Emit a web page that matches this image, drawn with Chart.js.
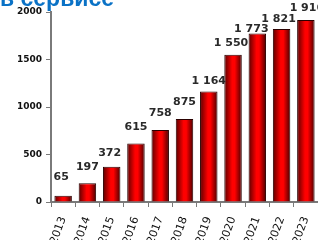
<!DOCTYPE html>
<html lang="ru">
<head>
<meta charset="UTF-8">
<title>в сервисе</title>
<script src="https://cdn.jsdelivr.net/npm/chart.js@4.4.1/dist/chart.umd.min.js"></script>
<style>
  html, body { margin: 0; padding: 0; background: #fff; }
  #wrap { width: 318px; height: 240px; position: relative; }
</style>
</head>
<body>
<div id="wrap"><canvas id="myChart" width="318" height="240"></canvas></div>

<script>
var years = ['2013', '2014', '2015', '2016', '2017', '2018', '2019', '2020', '2021', '2022', '2023'];
var counts = [65, 197, 372, 615, 758, 875, 1164, 1550, 1773, 1821, 1916];
var yTicks = [0, 500, 1000, 1500, 2000];
var titleText = 'в сервисе';

var barPct = 0.72;
// value labels were placed by hand in the original, so each one has its own lift / nudge (px)
var labelLift = [15, 13, 10, 13, 13, 13, 7, 8, 1, 6, 8];
var labelNudge = [-2, 0, -2, 0, 0, 0, 0, -2, -6, -3, 1];

function fmt(v) {
    return String(v).replace(/\B(?=(\d{3})+(?!\d))/g, ' ');
}

// bar fill: dark edges, bright red middle
function barFill(context) {
    var chart = context.chart;
    var x = chart.scales.x;
    if (!x || context.dataIndex === undefined) return '#e00000';
    var cx = x.getPixelForValue(context.dataIndex);
    var half = x.width / years.length * barPct / 2;
    if (!isFinite(cx) || !isFinite(half) || half <= 0) return '#e00000';
    var g = chart.ctx.createLinearGradient(cx - half, 0, cx + half, 0);
    g.addColorStop(0, '#5a0000');
    g.addColorStop(0.45, '#ff0000');
    g.addColorStop(0.6, '#ff0000');
    g.addColorStop(1, '#4a0000');
    return g;
}

var extras = {
    id: 'extras',
    afterDatasetsDraw: function (chart) {
        var ctx = chart.ctx;
        var meta = chart.getDatasetMeta(0);
        ctx.save();
        ctx.fillStyle = '#2a2a2a';
        ctx.font = 'bold 11px "DejaVu Sans", sans-serif';
        ctx.textAlign = 'center';
        ctx.textBaseline = 'bottom';
        meta.data.forEach(function (bar, i) {
            ctx.fillText(fmt(counts[i]), bar.x + labelNudge[i], bar.y - labelLift[i] + 2);
        });
        ctx.restore();
    },
    afterDraw: function (chart) {
        var ctx = chart.ctx;
        ctx.save();
        ctx.fillStyle = '#0a72c6';
        ctx.font = 'bold 23px "Liberation Sans", Arial, sans-serif';
        ctx.textAlign = 'left';
        ctx.textBaseline = 'alphabetic';
        ctx.fillText(titleText, 0, 6);
        ctx.restore();
    }
};

var chart = new Chart(document.getElementById('myChart'), {
    type: 'bar',
    data: {
        labels: years,
        datasets: [{
            data: counts,
            backgroundColor: barFill,
            borderColor: '#2a0000',
            borderWidth: 1,
            barPercentage: barPct,
            categoryPercentage: 1
        }]
    },
    options: {
        responsive: false,
        animation: false,
        layout: { padding: { top: 12, right: 0, left: 0, bottom: 0 } },
        plugins: {
            legend: { display: false },
            tooltip: { enabled: false }
        },
        scales: {
            x: {
                grid: {
                    offset: true,
                    drawOnChartArea: false,
                    drawTicks: true,
                    tickLength: 5,
                    color: '#7a7a7a'
                },
                border: { color: '#7a7a7a', width: 2 },
                ticks: {
                    color: '#111',
                    font: { size: 11, family: '"DejaVu Sans", sans-serif' },
                    minRotation: 70,
                    maxRotation: 70,
                    padding: 8
                },
                afterFit: function (s) {
                    s.height = 38;
                    s.paddingLeft = 0;
                    s.paddingRight = 0;
                }
            },
            y: {
                min: 0,
                max: 2000,
                afterBuildTicks: function (s) {
                    s.ticks = yTicks.map(function (v) { return { value: v }; });
                },
                grid: {
                    drawOnChartArea: false,
                    drawTicks: true,
                    tickLength: 5,
                    color: '#7a7a7a'
                },
                border: { color: '#7a7a7a', width: 2 },
                ticks: {
                    color: '#111',
                    font: { size: 9, weight: 'bold', family: '"DejaVu Sans", sans-serif' },
                    padding: 4,
                    callback: function (v) { return String(v); }
                },
                afterFit: function (s) {
                    s.width = 51;
                    s.paddingTop = 0;
                    s.paddingBottom = 0;
                }
            }
        }
    },
    plugins: [extras]
});
// redraw once scales exist so gradients get the real bar positions
chart.update();
</script>
</body>
</html>
